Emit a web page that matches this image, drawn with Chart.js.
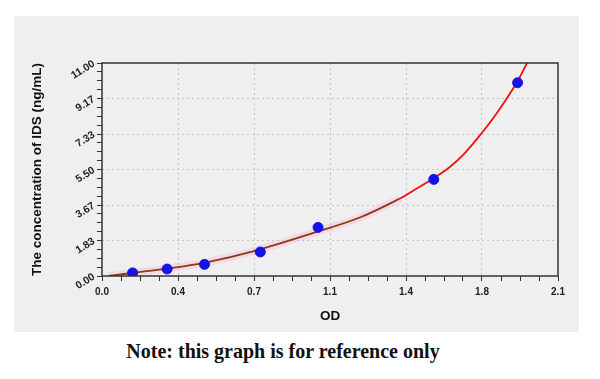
<!DOCTYPE html>
<html>
<head>
<meta charset="utf-8">
<script src="https://cdn.jsdelivr.net/npm/chart.js@4/dist/chart.umd.min.js"></script>
<style>
  html, body { margin: 0; padding: 0; background: #fff; }
  body { width: 600px; height: 379px; position: relative; overflow: hidden; }
  #panel { position: absolute; left: 14px; top: 16px; width: 565px; height: 316px; background: #efefef; }
  #chart { position: absolute; left: 0; top: 0; }
  #note {
    position: absolute; left: 0; width: 566px; top: 340px; text-align: center;
    font-family: "Liberation Serif", "DejaVu Serif", serif; font-weight: bold; font-size: 20px; color: #111;
  }
</style>
</head>
<body>
<div id="panel"><canvas id="chart" width="565" height="316"></canvas></div>
<div id="note">Note: this graph is for reference only</div>
<script>
// standard points (OD, concentration)
const OD   = [0.141, 0.300, 0.472, 0.729, 0.995, 1.528, 1.914];
const CONC = [0.16, 0.36, 0.60, 1.24, 2.51, 4.99, 9.98];

// fitted curve
const CURVE_OD   = [0.030, 0.138, 0.299, 0.475, 0.704, 0.995, 1.187, 1.372, 1.433, 1.525, 1.602, 1.663, 1.750, 1.817, 1.909, 1.962];
const CURVE_CONC = [0.00, 0.155, 0.382, 0.692, 1.30, 2.30, 3.02, 4.00, 4.40, 5.03, 5.63, 6.25, 7.40, 8.39, 9.97, 11.10];

const X_TICK_LABELS = ['0.0', '0.4', '0.7', '1.1', '1.4', '1.8', '2.1'];
const Y_TICK_LABELS = ['0.00', '1.83', '3.67', '5.50', '7.33', '9.17', '11.00'];
const X_MAX = 2.1, Y_MAX = 11;
const MINOR = 4; // minor ticks per major step

const curvePts = CURVE_OD.map((x, i) => ({ x, y: CURVE_CONC[i] }));
const stdPts   = OD.map((x, i) => ({ x, y: CONC[i] }));

function tickList(max, labels) {
  const n = (labels.length - 1) * MINOR;
  return Array.from({ length: n + 1 }, (_, i) => ({ value: max * i / n }));
}

const boxPlugin = {
  id: 'box',
  afterDatasetsDraw(c) {
    const a = c.chartArea, ctx = c.ctx;
    ctx.save();
    ctx.strokeStyle = '#333';
    ctx.lineWidth = 1.5;
    ctx.strokeRect(a.left, a.top, a.right - a.left, a.bottom - a.top);
    ctx.restore();
  }
};

const BROWN = '#8a3b12', RED = '#ee1111';

const tickFont  = { family: 'Liberation Sans, Arial, sans-serif', size: 10, weight: 'bold' };
const yTickFont = { family: 'Liberation Sans, Arial, sans-serif', size: 10.5, weight: 'bold' };
const titleFont = { family: 'Liberation Sans, Arial, sans-serif', size: 13.5, weight: 'bold' };

const majorGrid = c => (c.index % MINOR === 0 && c.index > 0 && c.index < 24) ? '#c4c4c4' : 'rgba(0,0,0,0)';

chart = new Chart(document.getElementById('chart'), {
  type: 'scatter',
  data: {
    datasets: [
      {
        label: 'standards',
        data: stdPts,
        backgroundColor: '#1414e8',
        borderColor: '#1414e8',
        pointRadius: 5,
        pointHoverRadius: 5,
        order: 0
      },
      {
        label: 'fit',
        type: 'line',
        data: curvePts,
        showLine: true,
        pointRadius: 0,
        borderWidth: 1.8,
        tension: 0.35,
        borderColor: RED,
        segment: { borderColor: s => s.p1.parsed.x <= 1.38 ? BROWN : RED },
        fill: false,
        order: 1
      },
      {
        label: 'band',
        type: 'line',
        data: curvePts.filter(p => p.x <= 1.38),
        showLine: true,
        pointRadius: 0,
        borderWidth: 8,
        tension: 0.35,
        borderColor: 'rgba(255,170,220,0.3)',
        fill: false,
        order: 2
      }
    ]
  },
  options: {
    responsive: false,
    animation: false,
    layout: { padding: { top: 47, right: 21, left: 0, bottom: 0 } },
    plugins: { legend: { display: false }, tooltip: { enabled: false } },
    scales: {
      x: {
        type: 'linear', min: 0, max: X_MAX,
        afterBuildTicks: s => { s.ticks = tickList(X_MAX, X_TICK_LABELS); },
        afterFit: s => { s.height = 56; },
        ticks: {
          autoSkip: false, maxRotation: 0, color: '#222', font: tickFont, padding: 5,
          callback: (v, i) => i % MINOR === 0 ? X_TICK_LABELS[i / MINOR] : ''
        },
        grid: { color: majorGrid, tickColor: '#333', tickLength: 5, lineWidth: 1 },
        border: { display: false, dash: [2, 3] },
        title: { display: true, text: 'OD', color: '#111', font: titleFont, padding: { top: 4, bottom: 8 } }
      },
      y: {
        type: 'linear', min: 0, max: Y_MAX,
        afterBuildTicks: s => { s.ticks = tickList(Y_MAX, Y_TICK_LABELS); },
        afterFit: s => { s.width = 88; },
        ticks: {
          autoSkip: false, minRotation: 32, maxRotation: 32, color: '#222', font: yTickFont, padding: 3,
          callback: (v, i) => i % MINOR === 0 ? Y_TICK_LABELS[i / MINOR] : ''
        },
        grid: { color: majorGrid, tickColor: '#333', tickLength: 5, lineWidth: 1 },
        border: { display: false, dash: [2, 3] },
        title: { display: true, text: 'The concentration of IDS (ng/mL)', color: '#111', font: titleFont, padding: { top: 15, bottom: 4 } }
      }
    }
  },
  plugins: [boxPlugin]
});
</script>
</body>
</html>
